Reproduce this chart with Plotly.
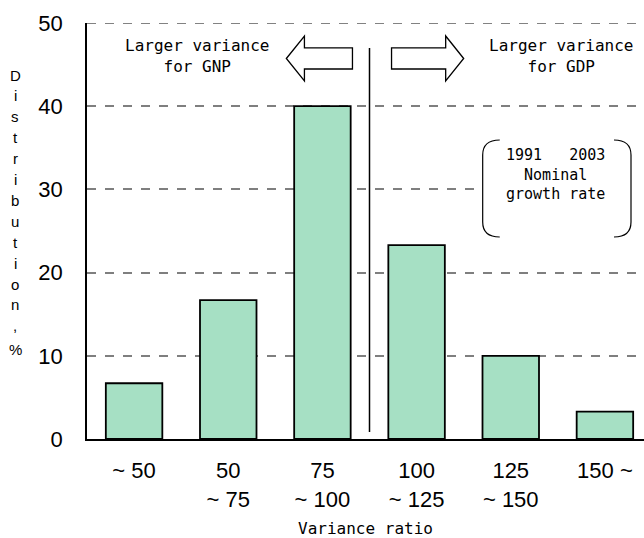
import plotly.graph_objects as go

# ---- data ----
categories = ["~ 50", "50<br>~ 75", "75<br>~ 100", "100<br>~ 125", "125<br>~ 150", "150 ~"]
shares = [6.7, 16.7, 40.0, 23.3, 10.0, 3.3]
y_ticks = [0, 10, 20, 30, 40, 50]
y_title = "Distribution, %"
x_title = "Variance ratio"
left_note = "Larger variance<br>for GNP"
right_note = "Larger variance<br>for GDP"
box_note = "1991   2003<br>Nominal<br>growth rate"

mono = "DejaVu Sans Mono"
sans = "Liberation Sans"
xpos = list(range(len(categories)))

fig = go.Figure()
fig.add_trace(go.Bar(
    x=xpos, y=shares, width=0.6,
    marker=dict(color="#A6E0C4", line=dict(color="black", width=1.8)),
    hoverinfo="skip",
))

shapes = []
# top dashed border at 50
shapes.append(dict(type="line", xref="paper", yref="y", x0=0, x1=1, y0=50, y1=50,
                   line=dict(color="#5a5a5a", width=1.5, dash="dash")))
# divider line
shapes.append(dict(type="line", xref="x", yref="y", x0=2.5, x1=2.5, y0=0.84, y1=47.0,
                   line=dict(color="black", width=1.5), layer="above"))
# left arrow
shapes.append(dict(type="path", xref="x", yref="y",
                   path="M 1.617,45.73 L 1.809,48.44 L 1.809,47.0 L 2.319,47.0 L 2.319,44.47 "
                        "L 1.809,44.47 L 1.809,43.03 Z",
                   line=dict(color="black", width=1.3), fillcolor="white"))
# right arrow
shapes.append(dict(type="path", xref="x", yref="y",
                   path="M 3.5,45.73 L 3.309,48.44 L 3.309,47.0 L 2.734,47.0 L 2.734,44.47 "
                        "L 3.309,44.47 L 3.309,43.03 Z",
                   line=dict(color="black", width=1.3), fillcolor="white"))
# white box behind note
shapes.append(dict(type="rect", xref="x", yref="y", x0=3.638, x1=5.34, y0=23.92, y1=36.18,
                   line=dict(width=0), fillcolor="white", layer="above"))
# brackets
shapes.append(dict(type="path", xref="x", yref="y",
                   path="M 3.883,35.94 Q 3.702,35.94 3.702,34.13 L 3.702,26.08 Q 3.702,24.28 3.883,24.28",
                   line=dict(color="black", width=1.2), layer="above"))
shapes.append(dict(type="path", xref="x", yref="y",
                   path="M 5.096,35.94 Q 5.277,35.94 5.277,34.13 L 5.277,26.08 Q 5.277,24.28 5.096,24.28",
                   line=dict(color="black", width=1.2), layer="above"))

annotations = []
annotations.append(dict(x=0.67, y=46.09, xref="x", yref="y", text=left_note, showarrow=False,
                        font=dict(family=mono, size=16, color="black"), align="center"))
annotations.append(dict(x=4.537, y=46.09, xref="x", yref="y", text=right_note, showarrow=False,
                        font=dict(family=mono, size=16, color="black"), align="center"))
annotations.append(dict(x=4.479, y=31.85, xref="x", yref="y", text=box_note, showarrow=False,
                        font=dict(family=mono, size=15, color="black"), align="center"))

# vertical stacked y-axis title (pixel layout converted to paper coords)
H, T, B, L, W = 538, 23, 99, 87, 644
ph = H - T - B
py = 75
for ch in y_title:
    if ch == " ":
        py += 3
        continue
    annotations.append(dict(x=(15 - L) / (W - L), y=(H - B - py) / ph, xref="paper", yref="paper",
                            text=ch, showarrow=False, xanchor="center", yanchor="middle",
                            font=dict(family=sans, size=15, color="black")))
    py += 20.9

fig.update_layout(
    width=W, height=H,
    margin=dict(l=L, r=0, t=T, b=B, autoexpand=False),
    paper_bgcolor="white", plot_bgcolor="white",
    showlegend=False,
    shapes=shapes, annotations=annotations,
    xaxis=dict(range=[-0.5, 5.415], tickmode="array", tickvals=xpos, ticktext=categories,
               showgrid=False, zeroline=False, showline=True, linecolor="black", linewidth=1.8,
               ticks="", ticklabelstandoff=11,
               tickfont=dict(family=sans, size=22, color="black"),
               title=dict(text=x_title, font=dict(family=mono, size=16, color="black"), standoff=12)),
    yaxis=dict(range=[0, 50], tickvals=y_ticks, showgrid=True, gridcolor="#7f7f7f",
               griddash="dash", gridwidth=1.5, zeroline=False, showline=True,
               linecolor="black", linewidth=1.8, ticks="", ticklabelstandoff=18,
               tickfont=dict(family=sans, size=22, color="black")),
)

fig.write_html("out.html", config={"displayModeBar": False},
               post_script="document.body.style.margin='0';document.body.style.padding='0';")
